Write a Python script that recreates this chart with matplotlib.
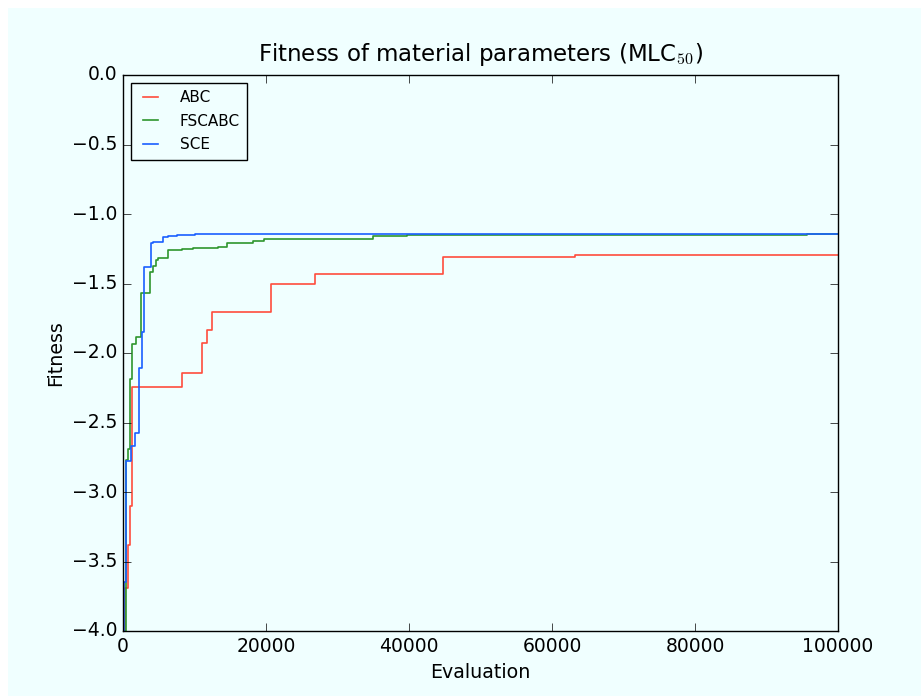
import matplotlib
matplotlib.use("Agg")
import matplotlib.pyplot as plt
from matplotlib.patches import Rectangle

# step change points (evaluation, best fitness so far)
abc_eval = [0, 300, 700, 1000, 1200, 8300, 11000, 11800, 12500, 20700, 26900, 44700, 63200, 100000]
abc_fit = [-4.0, -3.69, -3.38, -3.10, -2.245, -2.145, -1.926, -1.835, -1.703, -1.506, -1.432, -1.307, -1.297, -1.297]

fsc_eval = [0, 350, 700, 930, 1260, 1818, 2471, 3776, 4242, 4569, 4942, 6340, 8205, 9837,
            13300, 14600, 18230, 19720, 35000, 39700, 42650, 95600, 100000]
fsc_fit = [-4.0, -2.77, -2.69, -2.19, -1.935, -1.887, -1.571, -1.415, -1.374, -1.331, -1.314, -1.259, -1.252, -1.242,
           -1.235, -1.206, -1.192, -1.177, -1.158, -1.149, -1.148, -1.146, -1.146]

sce_eval = [0, 200, 420, 1070, 1680, 2284, 2611, 2937, 3869, 4242, 5641, 6340, 7506, 10000, 100000]
sce_fit = [-4.0, -3.645, -2.78, -2.669, -2.578, -2.11, -1.846, -1.379, -1.211, -1.199, -1.168, -1.156, -1.149, -1.146, -1.146]

xticks = [0, 20000, 40000, 60000, 80000, 100000]
yticks = [-4.0, -3.5, -3.0, -2.5, -2.0, -1.5, -1.0, -0.5, 0.0]

plt.style.use("classic")
plt.rcParams["mathtext.fontset"] = "cm"
plt.rcParams["font.family"] = ["DejaVu Sans"]

bg = "#f0ffff"
fig = plt.figure(figsize=(9.21, 6.96), dpi=100, facecolor="white")
fig.patches.append(Rectangle((8 / 921, 0), 1, 1 - 8 / 696, transform=fig.transFigure,
                             facecolor=bg, edgecolor="none", zorder=-10))
ax = fig.add_axes([123 / 921, 1 - 631 / 696, 715 / 921, 556 / 696])
ax.set_facecolor(bg)

ax.plot(abc_eval, abc_fit, drawstyle="steps-post", color="#ff4d3d", lw=1.2, label="ABC")
ax.plot(fsc_eval, fsc_fit, drawstyle="steps-post", color="#2e962e", lw=1.2, label="FSCABC")
ax.plot(sce_eval, sce_fit, drawstyle="steps-post", color="#1a5fff", lw=1.2, label="SCE")

ax.set_xlim(0, 100000)
ax.set_ylim(-4.0, 0.0)
ax.set_xticks(xticks)
ax.set_yticks(yticks)
ax.set_xticklabels([str(t) for t in xticks])
ax.set_yticklabels(["\u2212%.1f" % abs(t) if t < 0 else "%.1f" % t for t in yticks])
ax.tick_params(labelsize=13.5, direction="in", length=6)

ax.set_xlabel("Evaluation", fontsize=13.7)
ax.set_ylabel("Fitness", fontsize=13.7)
ax.set_title("Fitness of material parameters (MLC$_{50}$)", fontsize=16.5, y=1.012)

leg = ax.legend(loc="upper left", fontsize=11, handlelength=1.6, handletextpad=1.1,
                borderpad=0.5, labelspacing=0.55)
leg.get_frame().set_facecolor(bg)

fig.savefig("out.png", dpi=100, facecolor=fig.get_facecolor())
